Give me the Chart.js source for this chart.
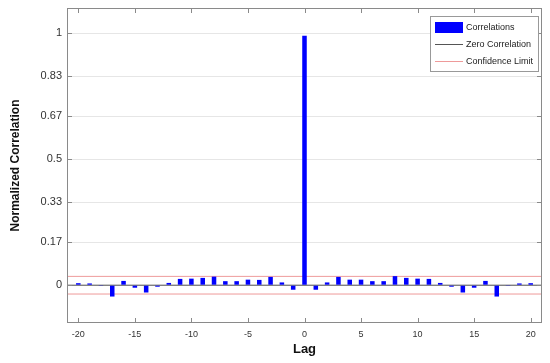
<!DOCTYPE html>
<html>
<head>
<meta charset="utf-8">
<script src="https://cdn.jsdelivr.net/npm/chart.js@4"></script>
<style>
  body { margin: 0; background: #fff; }
  #wrap { width: 550px; height: 363px; }
</style>
</head>
<body>
<div id="wrap"><canvas id="myChart"></canvas></div>
<script>
var lags = [-20, -19, -18, -17, -16, -15, -14, -13, -12, -11, -10, -9, -8, -7, -6, -5, -4, -3, -2, -1,
    0, 1, 2, 3, 4, 5, 6, 7, 8, 9, 10, 11, 12, 13, 14, 15, 16, 17, 18, 19, 20];
var correlations = [0.008, 0.007, -0.003, -0.045, 0.017, -0.010, -0.029, -0.006, 0.009, 0.025,
    0.026, 0.029, 0.034, 0.016, 0.016, 0.022, 0.021, 0.033, 0.011, -0.018,
    0.99,
    -0.018, 0.011, 0.033, 0.022, 0.022, 0.016, 0.016, 0.036, 0.029, 0.026,
    0.025, 0.009, -0.006, -0.029, -0.010, 0.017, -0.045, -0.003, 0.007, 0.008];
var confidence = 0.035;
var xLimits = [-21, 21];
var yLimits = [-0.15, 1.1];
var xTicks = [-20, -15, -10, -5, 0, 5, 10, 15, 20];
var yTicks = [0, 0.17, 0.33, 0.5, 0.67, 0.83, 1];
var legendItems = ['Correlations', 'Zero Correlation', 'Confidence Limit'];

var blue = '#0000ff';
var zeroColor = '#555555';
var confColor = 'rgba(232,120,120,0.75)';

// frame, inward ticks and the boxed legend (MATLAB look)
var framePlugin = {
    id: 'frame',
    afterDraw: function(chart) {
        var ctx = chart.ctx;
        var a = chart.chartArea;
        var xs = chart.scales.x, ys = chart.scales.y;
        ctx.save();
        ctx.strokeStyle = '#8a8a8a';
        ctx.lineWidth = 1;
        ctx.strokeRect(a.left + 0.5, a.top + 0.5, a.right - a.left - 1, a.bottom - a.top - 1);
        ctx.beginPath();
        xTicks.forEach(function(t) {
            var px = Math.round(xs.getPixelForValue(t)) + 0.5;
            ctx.moveTo(px, a.bottom); ctx.lineTo(px, a.bottom - 5);
            ctx.moveTo(px, a.top); ctx.lineTo(px, a.top + 5);
        });
        yTicks.forEach(function(t) {
            var py = Math.round(ys.getPixelForValue(t)) + 0.5;
            ctx.moveTo(a.left, py); ctx.lineTo(a.left + 5, py);
            ctx.moveTo(a.right, py); ctx.lineTo(a.right - 5, py);
        });
        ctx.stroke();

        // legend box
        var bx = a.right - 112, by = a.top + 8, bw = 108, bh = 55;
        ctx.fillStyle = '#fff';
        ctx.fillRect(bx, by, bw, bh);
        ctx.strokeStyle = '#999';
        ctx.strokeRect(bx + 0.5, by + 0.5, bw, bh);
        ctx.font = '9px "Liberation Sans", Arial, sans-serif';
        ctx.textBaseline = 'middle';
        var rowY = [by + 11, by + 28, by + 45];
        ctx.fillStyle = blue;
        ctx.fillRect(bx + 5, rowY[0] - 5, 28, 11);
        ctx.lineWidth = 1;
        ctx.strokeStyle = zeroColor;
        ctx.beginPath(); ctx.moveTo(bx + 5, rowY[1] + 0.5); ctx.lineTo(bx + 33, rowY[1] + 0.5); ctx.stroke();
        ctx.strokeStyle = confColor;
        ctx.beginPath(); ctx.moveTo(bx + 5, rowY[2] + 0.5); ctx.lineTo(bx + 33, rowY[2] + 0.5); ctx.stroke();
        ctx.fillStyle = '#222';
        legendItems.forEach(function(txt, i) {
            ctx.fillText(txt, bx + 36, rowY[i] + 1);
        });
        ctx.restore();
    }
};

var chr = document.getElementById('myChart').getContext('2d');
var myChart = new Chart(chr, {
    type: 'bar',
    data: {
        datasets: [{
            type: 'bar',
            label: 'Correlations',
            data: lags.map(function(l, i) { return { x: l, y: correlations[i] }; }),
            backgroundColor: blue,
            categoryPercentage: 0.4,
            barPercentage: 1,
            order: 0
        }, {
            type: 'line',
            label: 'Zero Correlation',
            data: [{ x: xLimits[0], y: 0 }, { x: xLimits[1], y: 0 }],
            borderColor: zeroColor,
            borderWidth: 1,
            pointRadius: 0,
            order: 1
        }, {
            type: 'line',
            label: 'Confidence Limit',
            data: [{ x: xLimits[0], y: confidence }, { x: xLimits[1], y: confidence }],
            borderColor: confColor,
            borderWidth: 1,
            pointRadius: 0,
            order: 2
        }, {
            type: 'line',
            label: 'Confidence Limit (lower)',
            data: [{ x: xLimits[0], y: -confidence }, { x: xLimits[1], y: -confidence }],
            borderColor: confColor,
            borderWidth: 1,
            pointRadius: 0,
            order: 2
        }]
    },
    options: {
        responsive: true,
        maintainAspectRatio: false,
        animation: false,
        layout: { padding: { top: 8, right: 8, left: 0, bottom: 0 } },
        plugins: {
            legend: { display: false },
            tooltip: { enabled: false }
        },
        scales: {
            x: {
                type: 'linear',
                min: xLimits[0],
                max: xLimits[1],
                offset: false,
                afterBuildTicks: function(scale) {
                    scale.ticks = xTicks.map(function(v) { return { value: v }; });
                },
                afterFit: function(scale) {
                    scale.height = 40;
                    scale.paddingLeft = 0;
                    scale.paddingRight = 0;
                },
                grid: { display: false, drawTicks: false },
                border: { display: false },
                ticks: {
                    padding: 6,
                    color: '#333',
                    font: { family: '"Liberation Sans", Arial, sans-serif', size: 9 },
                    maxRotation: 0
                },
                title: {
                    display: true,
                    text: 'Lag',
                    color: '#111',
                    font: { family: '"Liberation Sans", Arial, sans-serif', size: 13, weight: 'bold' },
                    padding: { top: 0, bottom: 6 }
                }
            },
            y: {
                min: yLimits[0],
                max: yLimits[1],
                afterBuildTicks: function(scale) {
                    scale.ticks = yTicks.map(function(v) { return { value: v }; });
                },
                afterFit: function(scale) {
                    scale.width = 67;
                    scale.paddingTop = 0;
                    scale.paddingBottom = 0;
                },
                grid: { color: '#e6e6e6', drawTicks: false },
                border: { display: false },
                ticks: {
                    padding: 5,
                    color: '#333',
                    font: { family: '"Liberation Sans", Arial, sans-serif', size: 11 },
                    callback: function(v) { return String(v); }
                },
                title: {
                    display: true,
                    text: 'Normalized Correlation',
                    color: '#111',
                    font: { family: '"Liberation Sans", Arial, sans-serif', size: 12, weight: 'bold' },
                    padding: { top: 8, bottom: 0 }
                }
            }
        }
    },
    plugins: [framePlugin]
});
</script>
</body>
</html>
